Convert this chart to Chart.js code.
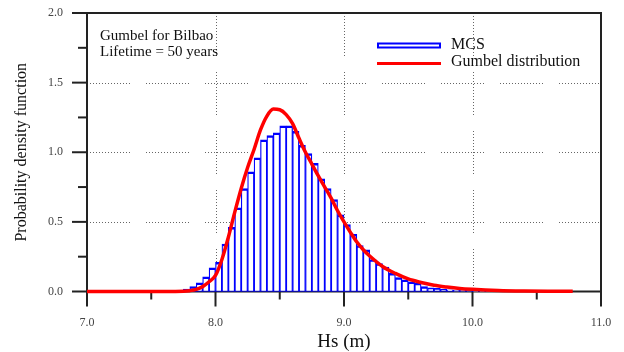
<!DOCTYPE html>
<html>
<head>
<meta charset="utf-8">
<script src="https://cdn.jsdelivr.net/npm/chart.js@4.4.0/dist/chart.umd.min.js"></script>
<style>
  body { margin: 0; background: #fff; }
  canvas { display: block; }
</style>
</head>
<body>
<canvas id="c" width="624" height="352"></canvas>
<script>
// histogram (MCS), bins of 0.05 m, left edges
const binLeft = [7.75, 7.80, 7.85, 7.90, 7.95, 8.00, 8.05, 8.10, 8.15, 8.20,
  8.25, 8.30, 8.35, 8.40, 8.45, 8.50, 8.55, 8.60, 8.65, 8.70,
  8.75, 8.80, 8.85, 8.90, 8.95, 9.00, 9.05, 9.10, 9.15, 9.20,
  9.25, 9.30, 9.35, 9.40, 9.45, 9.50, 9.55, 9.60, 9.65, 9.70,
  9.75, 9.80, 9.85, 9.90, 9.95, 10.00, 10.05, 10.10, 10.15, 10.20, 10.25];
const binWidth = 0.05;
const mcs = [0.018, 0.035, 0.062, 0.105, 0.17, 0.21, 0.34, 0.46, 0.60, 0.74,
  0.86, 0.96, 1.09, 1.12, 1.14, 1.19, 1.19, 1.15, 1.05, 0.99,
  0.92, 0.81, 0.74, 0.66, 0.55, 0.48, 0.41, 0.33, 0.30, 0.23,
  0.20, 0.175, 0.13, 0.10, 0.084, 0.07, 0.06, 0.036, 0.027, 0.022,
  0.015, 0.012, 0.010, 0.008, 0.007, 0.006, 0.005, 0.004, 0.003, 0.002, 0.002];

// Gumbel curve
const gumX = [7.0, 7.6, 7.75, 7.8, 7.85, 7.9, 7.95, 8.0, 8.05, 8.1, 8.15, 8.2, 8.25, 8.3,
  8.35, 8.4, 8.45, 8.5, 8.55, 8.6, 8.65, 8.7, 8.75, 8.8, 8.85, 8.9, 8.95, 9.0,
  9.05, 9.1, 9.15, 9.2, 9.3, 9.4, 9.5, 9.6, 9.7, 9.8, 9.9, 10.0, 10.2, 10.4, 10.6, 10.78];
const gumY = [0, 0, 0.002, 0.006, 0.015, 0.035, 0.07, 0.115, 0.23, 0.39, 0.57, 0.74, 0.89, 1.02,
  1.16, 1.26, 1.31, 1.305, 1.27, 1.205, 1.10, 1.00, 0.915, 0.83, 0.75, 0.67, 0.58, 0.50,
  0.425, 0.355, 0.30, 0.255, 0.18, 0.13, 0.09, 0.065, 0.045, 0.032, 0.022, 0.016, 0.008, 0.004, 0.002, 0.001];

const xMin = 7, xMax = 11, yMin = 0, yMax = 2;
const gridX = [8, 9, 10];
const gridY = [0.5, 1.0, 1.5];
const noteLines = ['Gumbel for Bilbao', 'Lifetime = 50 years'];
const legendLabels = ['MCS', 'Gumbel distribution'];

const serif = '"Liberation Serif", "Times New Roman", serif';

// dotted runs with small breaks, like the original plot
const dots = [];
for (let i = 0; i < 15; i++) dots.push(1, 2);
dots[dots.length - 1] = 16;

function noPad(s) {
  s.paddingTop = 0; s.paddingBottom = 0; s.paddingLeft = 0; s.paddingRight = 0;
}

const frame = {
  id: 'frame',
  beforeDatasetsDraw(chart) {
    const { ctx, chartArea: a, scales: { x, y } } = chart;
    ctx.save();
    ctx.strokeStyle = '#666';
    ctx.lineWidth = 1;
    ctx.setLineDash(dots);
    gridY.forEach(v => {
      const py = Math.round(y.getPixelForValue(v)) + 0.5;
      ctx.beginPath(); ctx.moveTo(a.left, py); ctx.lineTo(a.right, py); ctx.stroke();
    });
    gridX.forEach(v => {
      const px = Math.round(x.getPixelForValue(v)) + 0.5;
      ctx.beginPath(); ctx.moveTo(px, a.top); ctx.lineTo(px, a.bottom); ctx.stroke();
    });
    ctx.setLineDash([]);

    ctx.strokeStyle = '#222';
    ctx.lineWidth = 2;
    ctx.strokeRect(a.left, a.top, a.right - a.left, a.bottom - a.top);
    // y ticks, outward
    for (let v = yMin; v <= yMax + 1e-9; v += 0.25) {
      const py = y.getPixelForValue(v);
      const len = Math.abs(v / 0.5 - Math.round(v / 0.5)) < 1e-6 ? 15 : 9;
      ctx.beginPath(); ctx.moveTo(a.left - len, py); ctx.lineTo(a.left, py); ctx.stroke();
    }
    // x ticks, downward
    for (let v = xMin; v <= xMax + 1e-9; v += 0.5) {
      const px = x.getPixelForValue(v);
      const len = Math.abs(v - Math.round(v)) < 1e-6 ? 15 : 8;
      ctx.beginPath(); ctx.moveTo(px, a.bottom); ctx.lineTo(px, a.bottom + len); ctx.stroke();
    }
    ctx.restore();
  },
  afterDraw(chart) {
    const { ctx } = chart;
    ctx.save();
    ctx.fillStyle = '#111';
    ctx.font = '15px ' + serif;
    ctx.textBaseline = 'alphabetic';
    ctx.fillText(noteLines[0], 100, 39.5);
    ctx.fillText(noteLines[1], 100, 55.5);

    // legend
    ctx.strokeStyle = '#0000ff';
    ctx.lineWidth = 2;
    ctx.strokeRect(378, 43.5, 62, 4);
    ctx.strokeStyle = '#ff0000';
    ctx.lineWidth = 3;
    ctx.beginPath(); ctx.moveTo(377, 63.5); ctx.lineTo(441, 63.5); ctx.stroke();
    ctx.font = '16px ' + serif;
    ctx.fillText(legendLabels[0], 451, 48.5);
    ctx.fillText(legendLabels[1], 451, 66);
    ctx.restore();
  }
};

new Chart(document.getElementById('c'), {
  data: {
    datasets: [
      {
        type: 'line',
        label: legendLabels[1],
        data: gumX.map((v, i) => ({ x: v, y: gumY[i] })),
        borderColor: '#ff0000',
        borderWidth: 3.5,
        pointRadius: 0,
        cubicInterpolationMode: 'monotone',
        clip: 5,
        order: 0
      },
      {
        type: 'bar',
        label: legendLabels[0],
        data: binLeft.map((v, i) => ({ x: v + binWidth / 2, y: mcs[i] })),
        backgroundColor: '#ffffff',
        borderColor: '#0000ff',
        borderWidth: { top: 2.5, left: 1.25, right: 1.25, bottom: 1 },
        borderSkipped: false,
        barPercentage: 1,
        categoryPercentage: 1,
        clip: 5,
        order: 1
      }
    ]
  },
  options: {
    responsive: false,
    animation: false,
    devicePixelRatio: 1,
    layout: { padding: { top: 13, right: 23, bottom: 0, left: 0 } },
    plugins: { legend: { display: false }, tooltip: { enabled: false } },
    scales: {
      x: {
        type: 'linear',
        offset: false,
        min: xMin,
        max: xMax,
        grid: { display: false, drawTicks: false, offset: false },
        border: { display: false },
        ticks: {
          stepSize: 1,
          padding: 24,
          color: '#444',
          font: { family: serif, size: 12 },
          callback: v => v.toFixed(1)
        },
        title: {
          display: true,
          text: 'Hs (m)',
          color: '#111',
          font: { family: serif, size: 19, lineHeight: 1 },
          padding: 0
        },
        afterFit: s => { s.height = 60.5; noPad(s); }
      },
      y: {
        min: yMin,
        max: yMax,
        grid: { display: false, drawTicks: false },
        border: { display: false },
        ticks: {
          stepSize: 0.5,
          padding: 24,
          color: '#444',
          font: { family: serif, size: 12 },
          callback: v => v.toFixed(1)
        },
        title: {
          display: true,
          text: 'Probability density function',
          color: '#111',
          font: { family: serif, size: 16, lineHeight: 1.2 },
          padding: { top: 12, bottom: 0 }
        },
        afterFit: s => { s.width = 87; noPad(s); }
      }
    }
  },
  plugins: [frame]
});
</script>
</body>
</html>
